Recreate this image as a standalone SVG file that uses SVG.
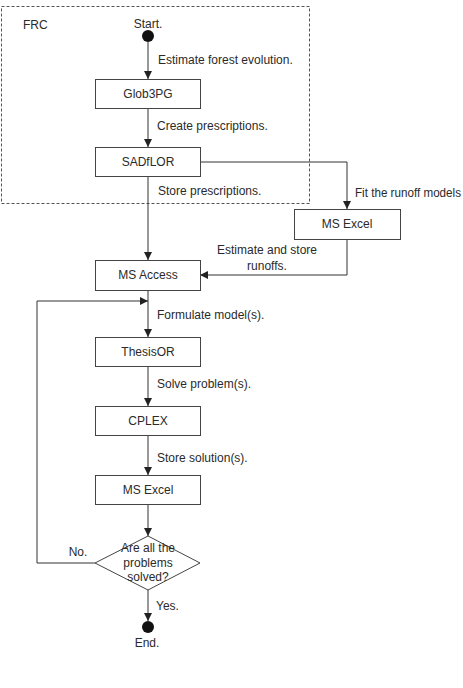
<svg xmlns="http://www.w3.org/2000/svg" width="463" height="688" viewBox="0 0 463 688">
  <defs>
    <marker id="arrow" markerWidth="8" markerHeight="8" refX="8" refY="4" orient="auto" markerUnits="userSpaceOnUse">
      <path d="M0,0 L8,4 L0,8 Z" fill="#222"/>
    </marker>
  </defs>
  <style>
    text { font-family: "Liberation Sans", Arial, sans-serif; font-size: 12px; fill: #2a2a2a; }
    .box { fill: #fff; stroke: #444; stroke-width: 1; }
    .edge { fill: none; stroke: #333; stroke-width: 1; }
    .mid { text-anchor: middle; }
  </style>
  <rect width="463" height="688" fill="#fff"/>

  <!-- FRC group boundary -->
  <g id="frc">
    <rect x="1.5" y="6.5" width="308" height="197" fill="none" stroke="#555" stroke-dasharray="3,2"/>
    <text x="23" y="29">FRC</text>
  </g>

  <g id="connectors">
    <line class="edge" x1="148" y1="42" x2="148" y2="79" marker-end="url(#arrow)"/>
    <text x="158" y="64">Estimate forest evolution.</text>
    <line class="edge" x1="148" y1="108" x2="148" y2="147" marker-end="url(#arrow)"/>
    <text x="157" y="130">Create prescriptions.</text>
    <line class="edge" x1="148" y1="176" x2="148" y2="260" marker-end="url(#arrow)"/>
    <text x="158" y="195">Store prescriptions.</text>
    <polyline class="edge" points="200,162 347,162 347,209" marker-end="url(#arrow)"/>
    <text x="355" y="197" textLength="106" lengthAdjust="spacingAndGlyphs">Fit the runoff models</text>
    <polyline class="edge" points="347,239 347,275 200,275" marker-end="url(#arrow)"/>
    <text class="mid" x="267" y="254">Estimate and store</text>
    <text class="mid" x="267" y="270">runoffs.</text>
    <line class="edge" x1="148" y1="290" x2="148" y2="337" marker-end="url(#arrow)"/>
    <text x="157" y="319">Formulate model(s).</text>
    <line class="edge" x1="148" y1="366" x2="148" y2="406" marker-end="url(#arrow)"/>
    <text x="157" y="388">Solve problem(s).</text>
    <line class="edge" x1="148" y1="435" x2="148" y2="475" marker-end="url(#arrow)"/>
    <text x="157" y="462">Store solution(s).</text>
    <line class="edge" x1="148" y1="504" x2="148" y2="536" marker-end="url(#arrow)"/>
    <polyline class="edge" points="95,563 37,563 37,301 148,301" marker-end="url(#arrow)"/>
    <text class="mid" x="78" y="556">No.</text>
    <line class="edge" x1="148" y1="590" x2="148" y2="621" marker-end="url(#arrow)"/>
    <text x="156" y="610">Yes.</text>
  </g>

  <g id="start">
    <circle cx="148" cy="36" r="6" fill="#111"/>
    <text class="mid" x="148" y="28">Start.</text>
  </g>
  <g id="glob3pg">
    <rect class="box" x="95.5" y="79.5" width="105" height="29"/>
    <text class="mid" x="148" y="98">Glob3PG</text>
  </g>
  <g id="sadflor">
    <rect class="box" x="95.5" y="147.5" width="105" height="29"/>
    <text class="mid" x="148" y="166">SADfLOR</text>
  </g>
  <g id="msexcel1">
    <rect class="box" x="294.5" y="209.5" width="106" height="30"/>
    <text class="mid" x="347" y="228">MS Excel</text>
  </g>
  <g id="msaccess">
    <rect class="box" x="95.5" y="260.5" width="105" height="30"/>
    <text class="mid" x="148" y="279">MS Access</text>
  </g>
  <g id="thesisor">
    <rect class="box" x="95.5" y="337.5" width="105" height="29"/>
    <text class="mid" x="148" y="356">ThesisOR</text>
  </g>
  <g id="cplex">
    <rect class="box" x="95.5" y="406.5" width="105" height="29"/>
    <text class="mid" x="148" y="425">CPLEX</text>
  </g>
  <g id="msexcel2">
    <rect class="box" x="95.5" y="475.5" width="105" height="29"/>
    <text class="mid" x="148" y="494">MS Excel</text>
  </g>
  <g id="decision">
    <polygon class="box" points="148,536 200,563 148,590 95,563"/>
    <text class="mid" x="148" y="552">Are all the</text>
    <text class="mid" x="148" y="567">problems</text>
    <text class="mid" x="148" y="581">solved?</text>
  </g>
  <g id="end">
    <circle cx="148" cy="627" r="6" fill="#111"/>
    <text class="mid" x="147" y="647">End.</text>
  </g>
</svg>
